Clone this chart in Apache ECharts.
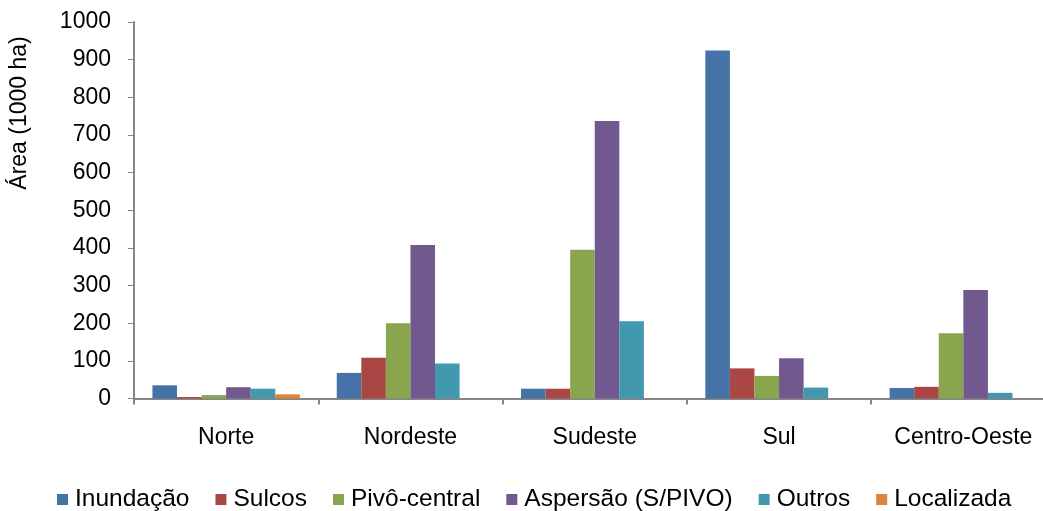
<!DOCTYPE html>
<html>
<head>
<meta charset="utf-8">
<script src="https://cdn.jsdelivr.net/npm/echarts@6/dist/echarts.min.js"></script>
<style>
html,body{margin:0;padding:0;background:#fff;}
#chart{width:1043px;height:511px;}
</style>
</head>
<body>
<div id="chart"></div>
<script>
var categories = ['Norte', 'Nordeste', 'Sudeste', 'Sul', 'Centro-Oeste'];
var inundacao = [35, 68, 26, 924, 28];
var sulcos = [4, 108, 26, 80, 31];
var pivo = [9, 200, 395, 60, 173];
var aspersao = [30, 408, 737, 107, 288];
var outros = [26, 93, 205, 29, 15];
var localizada = [11, 0, 0, 0, 0];
var yTicks = [0, 100, 200, 300, 400, 500, 600, 700, 800, 900, 1000];

var seriesNames = ['Inundação', 'Sulcos', 'Pivô-central', 'Aspersão (S/PIVO)', 'Outros', 'Localizada'];
var seriesData = [inundacao, sulcos, pivo, aspersao, outros, localizada];
var colors = ['#4572A7', '#AA4643', '#89A54E', '#71588F', '#4198AF', '#DB843D'];
var FONT = 'Liberation Sans, Arial, sans-serif';

var chart = echarts.init(document.getElementById('chart'));
chart.setOption({
  animation: false,
  color: colors,
  textStyle: {fontFamily: FONT},
  grid: {left: 134, width: 921.5, top: 22, bottom: 112.5, containLabel: false, outerBoundsMode: 'none'},
  legend: {
    data: seriesNames,
    bottom: -6,
    left: 52,
    icon: 'rect',
    itemWidth: 11,
    itemHeight: 11,
    itemGap: 26,
    textStyle: {fontSize: 24.5, color: '#000', fontFamily: FONT, padding: [0, 0, 0, 2]}
  },
  xAxis: {
    type: 'category',
    data: categories,
    axisLine: {lineStyle: {color: '#868686', width: 2}},
    axisTick: {show: true, length: 6, lineStyle: {color: '#868686', width: 2}},
    axisLabel: {fontSize: 23, color: '#000', margin: 28, fontFamily: FONT}
  },
  yAxis: {
    type: 'value',
    min: yTicks[0],
    max: yTicks[yTicks.length - 1],
    interval: 100,
    axisLine: {show: true, lineStyle: {color: '#868686', width: 2}},
    axisTick: {show: true, length: 6, lineStyle: {color: '#868686', width: 1}},
    splitLine: {show: false},
    axisLabel: {fontSize: 23, color: '#000', margin: 23, fontFamily: FONT,
      formatter: function (v) { return String(v); }}
  },
  graphic: [{
    type: 'text',
    x: 20,
    y: 113,
    rotation: Math.PI / 2,
    style: {
      text: 'Área (1000 ha)',
      fontSize: 23,
      fontFamily: FONT,
      fill: '#000',
      textAlign: 'center',
      textVerticalAlign: 'middle'
    }
  }],
  series: seriesNames.map(function (n, i) {
    return {
      name: n,
      type: 'bar',
      data: seriesData[i],
      barGap: '0%',
      barCategoryGap: '20%',
      itemStyle: {borderWidth: 0}
    };
  })
});
</script>
</body>
</html>
